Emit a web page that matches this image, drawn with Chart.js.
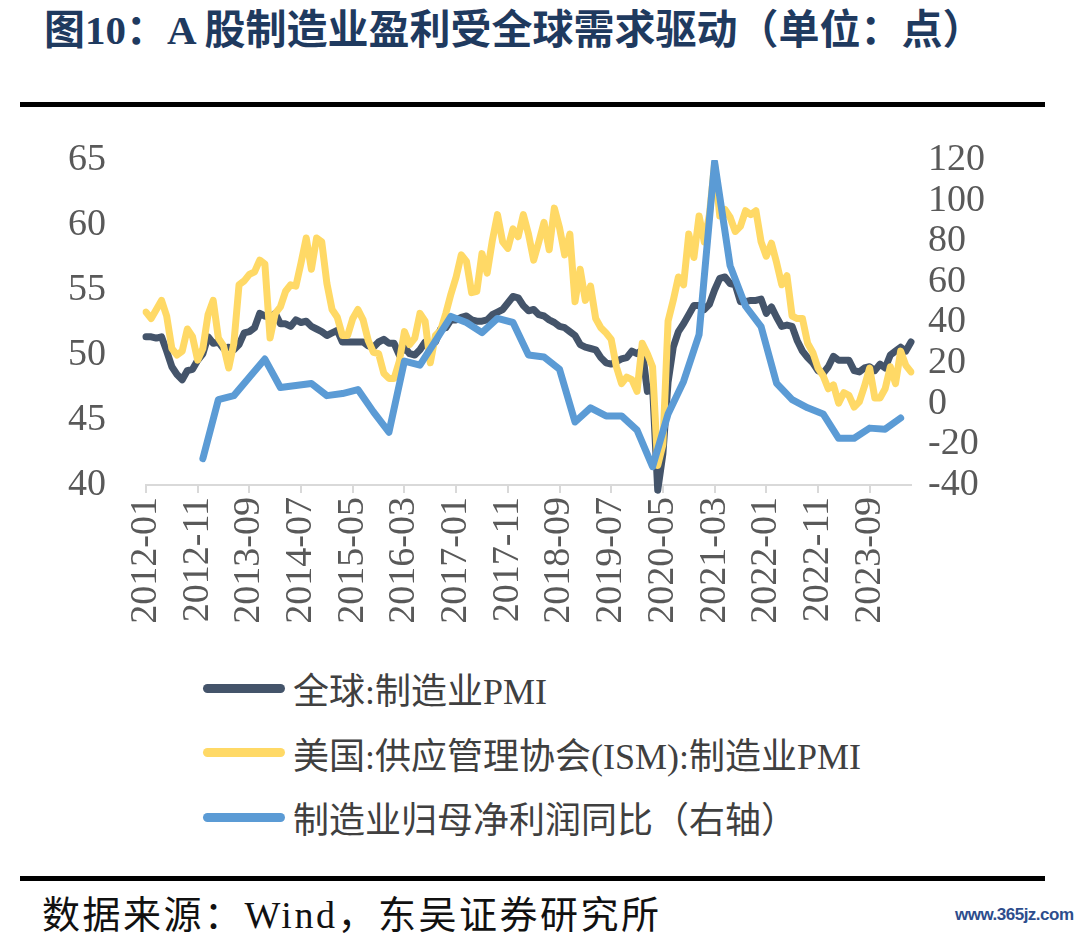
<!DOCTYPE html>
<html>
<head>
<meta charset="utf-8">
<script src="https://cdn.jsdelivr.net/npm/chart.js@4.4.0/dist/chart.umd.min.js"></script>
<style>
body { margin: 0; width: 1080px; height: 942px; background: #fff; position: relative; overflow: hidden;
       font-family: "Liberation Serif", "Noto Sans CJK SC", serif; }
#title { position: absolute; left: 44px; top: 6px; line-height: 48px; font-size: 41px; font-weight: bold;
         color: #1f3a5f; white-space: nowrap; }
.rule { position: absolute; left: 20px; width: 1025px; height: 5px; background: #000; }
#wrap { position: absolute; left: 0; top: 120px; width: 1080px; height: 530px; }
#legend { position: absolute; left: 203px; top: 656px; }
.item { height: 64.5px; display: flex; align-items: center; font-size: 36px; color: #404040; white-space: nowrap; }
.swatch { width: 82px; height: 9px; border-radius: 5px; margin-right: 8px; }
#source { position: absolute; left: 42px; top: 892px; line-height: 46px; font-size: 38px; color: #111;
          letter-spacing: 2.5px; white-space: nowrap; }
#mark { position: absolute; left: 955px; top: 905px; font-size: 17px; color: #2d4d8c; letter-spacing: -0.5px;
        font-family: "Liberation Sans Narrow", "Liberation Sans", sans-serif; font-weight: bold; }
</style>
</head>
<body>
<div id="title">图10：A 股制造业盈利受全球需求驱动（单位：点）</div>
<div class="rule" style="top:102px"></div>
<div id="wrap"><canvas id="chart" width="1080" height="530"></canvas></div>
<div id="legend"></div>
<div class="rule" style="top:876px"></div>
<div id="source">数据来源：Wind，东吴证券研究所</div>
<div id="mark">www.365jz.com</div>

<script>
// monthly categories 2012-01 .. 2024-05
const months = [];
for (let y = 2012; y <= 2024; y++) {
    for (let m = 1; m <= 12; m++) {
        if (y === 2024 && m > 5) break;
        months.push(y + '-' + String(m).padStart(2, '0'));
    }
}

const seriesNames = ['全球:制造业PMI', '美国:供应管理协会(ISM):制造业PMI', '制造业归母净利润同比（右轴）'];
const seriesColors = ['#44546a', '#ffd966', '#5b9bd5'];

// 全球:制造业PMI (left axis)
const globalPmi = [
    51.4, 51.4, 51.3, 51.4, 50.3, 49.1, 48.5, 48.1, 48.8, 48.9, 49.6, 50.1,
    51.4, 50.9, 51.0, 50.5, 50.6, 50.4, 50.8, 51.7, 51.8, 52.1, 53.2, 53.0,
    52.9, 53.2, 52.4, 52.4, 52.2, 52.7, 52.5, 52.6, 52.2, 52.0, 51.8, 51.5,
    51.7, 51.9, 51.0, 51.0, 51.0, 51.0, 51.0, 50.7, 50.6, 51.0, 51.2, 50.9,
    50.9, 50.0, 50.6, 50.1, 50.0, 50.4, 51.0, 50.8, 51.0, 52.0, 52.1, 52.7,
    52.7, 52.9, 53.0, 52.7, 52.6, 52.6, 52.7, 53.1, 53.3, 53.5, 54.0, 54.5,
    54.4, 53.8, 53.4, 53.5, 53.1, 53.0, 52.7, 52.5, 52.2, 52.1, 51.8, 51.5,
    50.8, 50.6, 50.5, 50.4, 49.8, 49.4, 49.3, 49.5, 49.7, 49.8, 50.3, 50.1,
    50.4, 47.2, 47.6, 39.6, 42.4, 47.9, 50.6, 51.8, 52.4, 53.1, 53.8, 53.8,
    53.5, 53.9, 55.0, 55.9, 56.0, 55.5, 55.4, 54.1, 54.1, 54.2, 54.2, 54.3,
    53.2, 53.7, 52.9, 52.2, 52.3, 52.2, 51.1, 50.3, 49.8, 49.4, 48.8, 48.6,
    49.1, 49.9, 49.6, 49.6, 49.6, 48.8, 48.7, 49.0, 49.1, 48.8, 49.3, 49.0,
    50.0, 50.3, 50.6, 50.3, 51.0
];

// 美国:ISM制造业PMI (left axis)
const ismPmi = [
    53.3, 52.8, 53.5, 54.2, 53.0, 50.5, 50.0, 50.3, 52.0, 51.4, 49.6, 50.5,
    53.1, 54.2, 51.3, 50.7, 49.0, 50.9, 55.4, 55.7, 56.2, 56.4, 57.3, 57.0,
    51.3, 53.2, 53.7, 54.9, 55.4, 55.3, 57.1, 59.0, 56.6, 59.0, 58.7, 55.5,
    53.5, 52.9, 51.5, 51.5, 52.8, 53.5, 52.7, 51.1, 50.2, 50.1, 48.6, 48.2,
    48.2, 49.5, 51.8, 50.8, 51.3, 53.2, 52.6, 49.4, 51.5, 51.9, 53.2, 54.7,
    56.0, 57.7, 57.2, 54.8, 54.9, 57.8, 56.3, 58.8, 60.8, 58.7, 58.2, 59.7,
    59.1, 60.8, 59.3, 57.3, 58.7, 60.2, 58.1, 61.3, 59.8, 57.7, 59.3, 54.1,
    56.6, 54.2, 55.3, 52.8, 52.1, 51.7, 51.2, 49.1, 47.8, 48.3, 48.1, 47.2,
    50.9, 50.1, 49.1, 41.5, 43.1, 52.6, 54.2, 56.0, 55.4, 59.3, 57.5, 60.7,
    58.7, 60.8, 64.7, 60.7, 61.2, 60.6, 59.5, 59.9, 61.1, 60.8, 61.1, 58.7,
    57.6, 58.6, 57.1, 55.4, 56.1, 53.0, 52.8, 52.8, 50.9, 50.2, 49.0, 48.4,
    47.4, 47.7, 46.3, 47.1, 46.9, 46.0, 46.4, 47.6, 49.0, 46.7, 46.7, 47.4,
    49.1, 47.8, 50.3, 49.2, 48.7
];

// 制造业归母净利润同比 (quarterly, right axis)
const profitQuarters = [
    '2012-12',
    '2013-03', '2013-06', '2013-09', '2013-12',
    '2014-03', '2014-06', '2014-09', '2014-12',
    '2015-03', '2015-06', '2015-09', '2015-12',
    '2016-03', '2016-06', '2016-09', '2016-12',
    '2017-03', '2017-06', '2017-09', '2017-12',
    '2018-03', '2018-06', '2018-09', '2018-12',
    '2019-03', '2019-06', '2019-09', '2019-12',
    '2020-03', '2020-06', '2020-09', '2020-12',
    '2021-03', '2021-06', '2021-09', '2021-12',
    '2022-03', '2022-06', '2022-09', '2022-12',
    '2023-03', '2023-06', '2023-09', '2023-12',
    '2024-03'
];
const profitYoy = [
    -27,
    2, 4, 13, 22,
    8, 9, 10, 4,
    5, 7, -4, -14,
    21, 19, 31, 43,
    40, 35, 42, 40,
    24, 23, 17, -9,
    -2, -6, -6, -13,
    -31, -5, 11, 34,
    119, 68, 48, 38,
    10, 2, -2, -5,
    -17, -17, -12, -12.5,
    -7
];

const tickFont = { family: '"Liberation Serif", serif', size: 38 };
const tickColor = '#595959';

const ctx = document.getElementById('chart').getContext('2d');
const chart = new Chart(ctx, {
    type: 'line',
    data: {
        labels: months,
        datasets: [
            { label: seriesNames[0], data: globalPmi, yAxisID: 'y', borderColor: seriesColors[0], order: 3, clip: false },
            { label: seriesNames[1], data: ismPmi, yAxisID: 'y', borderColor: seriesColors[1], order: 2 },
            {
                label: seriesNames[2],
                data: profitQuarters.map((q, i) => ({ x: q, y: profitYoy[i] })),
                yAxisID: 'y1', borderColor: seriesColors[2], order: 1, spanGaps: true
            }
        ]
    },
    options: {
        responsive: false,
        animation: false,
        layout: { padding: { left: 68, right: 49, top: 40, bottom: 15 } },
        plugins: { legend: { display: false }, tooltip: { enabled: false } },
        elements: {
            line: { borderWidth: 7, tension: 0, borderCapStyle: 'round', borderJoinStyle: 'round' },
            point: { radius: 0, hoverRadius: 0 }
        },
        scales: {
            x: {
                type: 'category',
                offset: false,
                grid: {
                    drawOnChartArea: false, tickLength: 8, lineWidth: 2,
                    color: c => (c.index % 10 === 0 ? '#d9d9d9' : 'rgba(0,0,0,0)')
                },
                border: { color: '#d9d9d9', width: 2 },
                ticks: {
                    autoSkip: false, minRotation: 90, maxRotation: 90, padding: 4,
                    color: tickColor, font: tickFont,
                    callback: (v, i) => (i % 10 === 0 ? months[i] : '')
                },
                afterFit: s => { s.height = 150; }
            },
            y: {
                position: 'left', min: 40, max: 65,
                grid: { display: false }, border: { display: false },
                ticks: { stepSize: 5, autoSkip: false, padding: 0, crossAlign: 'far', color: tickColor, font: tickFont },
                afterFit: s => { s.width = 78; }
            },
            y1: {
                position: 'right', min: -40, max: 120,
                grid: { display: false }, border: { display: false },
                ticks: { stepSize: 20, autoSkip: false, padding: 9, color: tickColor, font: tickFont },
                afterFit: s => { s.width = 120; }
            }
        }
    }
});

// legend, one row per series
const legend = document.getElementById('legend');
seriesNames.forEach((name, i) => {
    const row = document.createElement('div');
    row.className = 'item';
    row.innerHTML = '<span class="swatch" style="background:' + seriesColors[i] + '"></span><span>' + name + '</span>';
    legend.appendChild(row);
});
</script>
</body>
</html>
